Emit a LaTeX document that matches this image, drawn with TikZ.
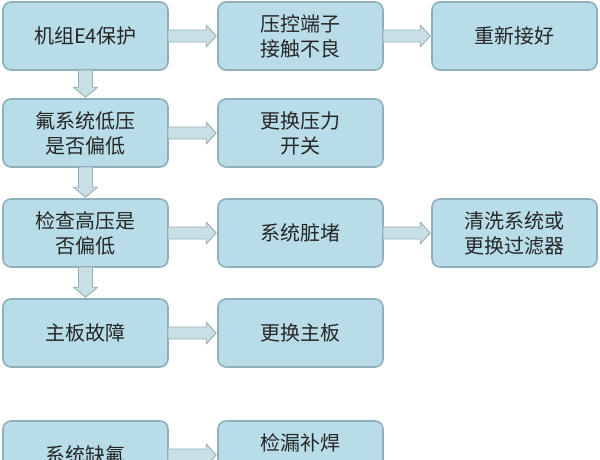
\documentclass[tikz,border=0pt]{standalone}
\usepackage{fontspec}
\newfontfamily\cjk{Noto Sans CJK SC}
\usetikzlibrary{calc}
\definecolor{boxfill}{HTML}{B8DDE8}
\definecolor{boxline}{HTML}{8FAFBA}
\definecolor{arrfill}{HTML}{C8DFE6}
\definecolor{arrline}{HTML}{9AAEB5}
\tikzset{
  box/.style={draw=boxline, line width=1.6pt, fill=boxfill, rounded corners=8pt,
    minimum width=165pt, minimum height=68pt, align=center, font=\cjk\fontsize{20}{25}\selectfont,
    text=black!85, inner sep=0pt},
  arr/.style={draw=arrline, fill=arrfill, line width=0.9pt, line join=round}
}
\newcommand{\harr}[2]{\draw[arr] let \p1=(#1.east), \p2=(#2.west) in
  (\x1-1pt,\y1+6pt) -- (\x2-11pt,\y1+6pt) -- (\x2-11pt,\y1+11pt) -- (\x2-1pt,\y1) --
  (\x2-11pt,\y1-11pt) -- (\x2-11pt,\y1-6pt) -- (\x1-1pt,\y1-6pt) -- cycle;}
\newcommand{\varr}[2]{\draw[arr] let \p1=(#1.south), \p2=(#2.north) in
  (\x1-7pt,\y1+1pt) -- (\x1-7pt,\y2+11pt) -- (\x1-12pt,\y2+11pt) -- (\x1,\y2+1pt) --
  (\x1+12pt,\y2+11pt) -- (\x1+7pt,\y2+11pt) -- (\x1+7pt,\y1+1pt) -- cycle;}
\begin{document}
\begin{tikzpicture}[x=1pt,y=-1pt]
\useasboundingbox (0,0) rectangle (600,459);
\begin{scope}
\clip (0,0) rectangle (600,459);
\node[box] (a1) at (85.5,36) {机组E4保护};
\node[box] (a2) at (300.5,36) {压控端子\\接触不良};
\node[box] (a3) at (514.5,36) {重新接好};
\node[box] (b1) at (85.5,133) {氟系统低压\\是否偏低};
\node[box] (b2) at (300.5,133) {更换压力\\开关};
\node[box] (c1) at (85.5,233) {检查高压是\\否偏低};
\node[box] (c2) at (300.5,233) {系统脏堵};
\node[box] (c3) at (514.5,233) {清洗系统或\\更换过滤器};
\node[box] (d1) at (85.5,333) {主板故障};
\node[box] (d2) at (300.5,333) {更换主板};
\node[box] (e1) at (85.5,455) {系统缺氟};
\node[box] (e2) at (300.5,455) {检漏补焊\\\phantom{加氟}};
\harr{a1}{a2}
\harr{a2}{a3}
\harr{b1}{b2}
\harr{c1}{c2}
\harr{c2}{c3}
\harr{d1}{d2}
\harr{e1}{e2}
\varr{a1}{b1}
\varr{b1}{c1}
\varr{c1}{d1}
\end{scope}
\end{tikzpicture}
\end{document}
